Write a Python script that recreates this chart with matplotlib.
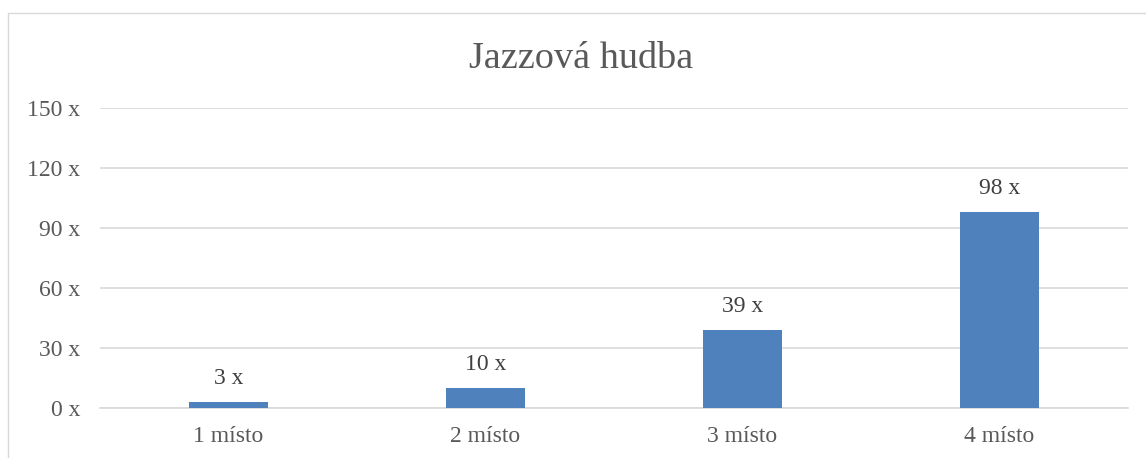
import matplotlib
matplotlib.use("Agg")
import matplotlib.pyplot as plt
from matplotlib.patches import Rectangle

kategorie = ["1 místo", "2 místo", "3 místo", "4 místo"]
hodnoty = [3, 10, 39, 98]
y_ticks = [0, 30, 60, 90, 120, 150]

plt.rcParams["font.family"] = ["Liberation Serif", "DejaVu Serif"]
sedy = "#595959"

W, H = 1146, 458
fig = plt.figure(figsize=(W / 100, H / 100), dpi=100)
ax = fig.add_axes([100 / W, 1 - 408 / H, 1028 / W, 300 / H])

x = range(len(kategorie))
ax.bar(x, hodnoty, width=0.31, color="#4F81BD", zorder=3)
for xi, v in zip(x, hodnoty):
    ax.annotate(f"{v} x", (xi, v), xytext=(0, 9), textcoords="offset points",
                ha="center", va="bottom", fontsize=17, color="#404040")

ax.set_xlim(-0.5, len(kategorie) - 0.5)
ax.set_ylim(0, 150)
ax.set_yticks(y_ticks)
ax.set_yticklabels([f"{t} x" for t in y_ticks])
ax.set_xticks(list(x))
ax.set_xticklabels(kategorie)
ax.tick_params(axis="both", length=0, labelsize=17, labelcolor=sedy)
ax.tick_params(axis="y", pad=14)
ax.tick_params(axis="x", pad=13)
ax.grid(axis="y", color="#D9D9D9", linewidth=1.2, zorder=0)
for s in ["top", "right", "left"]:
    ax.spines[s].set_visible(False)
ax.spines["bottom"].set_color("#D9D9D9")
ax.spines["bottom"].set_linewidth(1.2)

fig.text(581 / W, 1 - 59 / H, "Jazzová hudba", ha="center", va="center",
         fontsize=27.5, color=sedy)

# okraj grafu (pravy a dolni okraj jsou oriznute)
fig.patches.append(Rectangle((8 / W, -0.1), 1.2, 1 - 13 / H + 0.1,
                             transform=fig.transFigure, fill=False,
                             edgecolor="#D9D9D9", linewidth=1))

fig.savefig("out.png", dpi=100)
